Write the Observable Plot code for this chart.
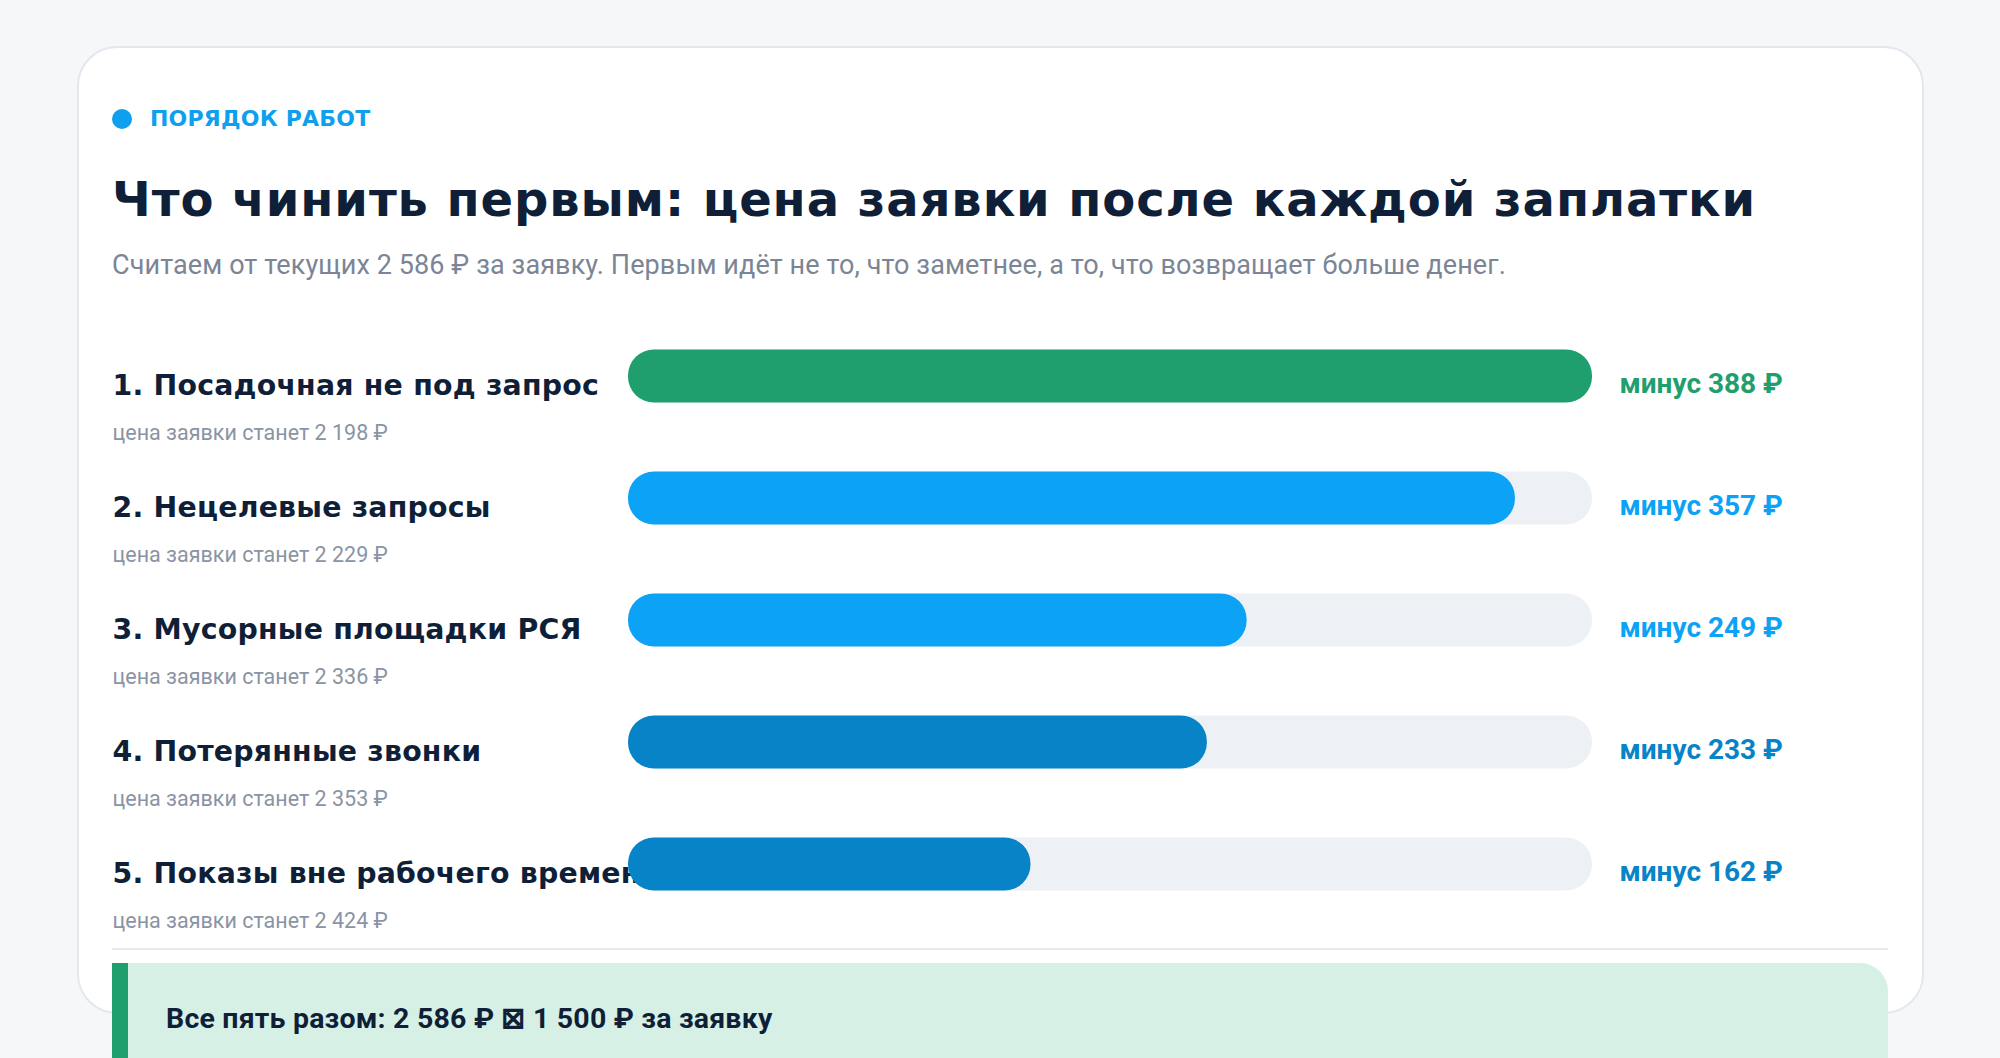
<!DOCTYPE html>
<html lang="ru">
<head>
<meta charset="utf-8">
<script src="https://cdn.jsdelivr.net/npm/d3@7"></script>
<script src="https://cdn.jsdelivr.net/npm/@observablehq/plot@0.6"></script>
<style>
  html, body { margin: 0; padding: 0; }
  body { width: 2000px; height: 1058px; overflow: hidden; background: #f6f7f9; position: relative; }
  .abs { position: absolute; white-space: nowrap; }
  #card { left: 77px; top: 46px; width: 1847px; height: 968px; box-sizing: border-box;
          border: 2px solid #e3e8ef; border-radius: 40px; background: #fff; }
  #dot { left: 112px; top: 109px; width: 20px; height: 20px; border-radius: 50%; background: #0ea0ef; }
  #eyebrow { left: 150px; top: 108px; font: 700 22px/22px "DejaVu Sans"; color: #0ea0ef; letter-spacing: 0.2px; }
  #title { left: 112px; top: 175px; font: 700 48px/48px "DejaVu Sans"; color: #0f1f38; letter-spacing: 0.9px; }
  #subtitle { left: 112px; top: 252px; font: 400 27px/27px Roboto; color: #7b8595; letter-spacing: 0.1px; }
  #chart { left: 112px; top: 315px; }
  #sep { left: 112px; top: 948px; width: 1776px; height: 2px; background: #e6eaf0; }
  #callout { left: 112px; top: 963px; width: 1776px; height: 140px; box-sizing: border-box;
             background: #d6f0e5; border-left: 16px solid #1f9e6e; border-top-right-radius: 28px; }
  #callout-text { left: 166px; top: 1005px; font: 700 28.5px/28.5px Roboto; color: #0f1f38; letter-spacing: 0.2px; }
  #chart .row-label text { letter-spacing: 0.2px; }
</style>
</head>
<body>
<div id="card" class="abs"></div>
<div id="dot" class="abs"></div>
<div id="eyebrow" class="abs"></div>
<div id="title" class="abs"></div>
<div id="subtitle" class="abs"></div>
<div id="chart" class="abs"></div>
<div id="sep" class="abs"></div>
<div id="callout" class="abs"></div>
<div id="callout-text" class="abs"></div>
<script>
// ---- data ----
const ranks = [1, 2, 3, 4, 5];
const fixes = [
  "Посадочная не под запрос",
  "Нецелевые запросы",
  "Мусорные площадки РСЯ",
  "Потерянные звонки",
  "Показы вне рабочего времени"
];
const savings = [388, 357, 249, 233, 162];
const newPrices = [2198, 2229, 2336, 2353, 2424];
const currentPrice = 2586;
const allFivePrice = 1500;

const eyebrowText = "ПОРЯДОК РАБОТ";
const titleText = "Что чинить первым: цена заявки после каждой заплатки";
const palette = ["#1f9e6e", "#0ca2f5", "#0ca2f5", "#0784c7", "#0784c7"];

const fmt = n => d3.format(",")(n).replace(/,/g, " ");

document.getElementById("eyebrow").textContent = eyebrowText;
document.getElementById("title").textContent = titleText;
document.getElementById("subtitle").textContent =
  `Считаем от текущих ${fmt(currentPrice)} ₽ за заявку. Первым идёт не то, что заметнее, а то, что возвращает больше денег.`;
document.getElementById("callout-text").textContent =
  `Все пять разом: ${fmt(currentPrice)} ₽ ⊠ ${fmt(allFivePrice)} ₽ за заявку`;

const rows = ranks.map((r, i) => ({
  rank: r,
  label: `${r}. ${fixes[i]}`,
  sub: `цена заявки станет ${fmt(newPrices[i])} ₽`,
  value: savings[i],
  valueLabel: `минус ${savings[i]} ₽`
}));
const maxV = d3.max(savings);

const chart = Plot.plot({
  width: 1776,
  height: 610,
  margin: 0,
  style: { background: "transparent", overflow: "visible" },
  x: { domain: [0, maxV], range: [516, 1480], axis: null },
  y: { type: "band", domain: ranks, padding: 0, axis: null },
  color: { type: "ordinal", domain: ranks, range: palette },
  marks: [
    Plot.barX(rows, { x1: 0, x2: () => maxV, y: "rank", fill: "#edf1f6", rx: 26, insetTop: 34.5, insetBottom: 34.5 }),
    Plot.text(rows, { y: "rank", text: "label", frameAnchor: "left", textAnchor: "start", dy: 9,
      fontFamily: "DejaVu Sans", fontWeight: 700, fontSize: 28.4, fill: "#0f1f38", className: "row-label" }),
    Plot.text(rows, { y: "rank", text: "sub", frameAnchor: "left", textAnchor: "start", dy: 57,
      fontFamily: "Roboto", fontWeight: 400, fontSize: 21.5, fill: "#8a94a4" }),
    Plot.barX(rows, { x1: 0, x2: "value", y: "rank", fill: "rank", rx: 26, insetTop: 34.5, insetBottom: 34.5 }),
    Plot.text(rows, { x: () => maxV, y: "rank", text: "valueLabel", textAnchor: "start", dx: 27, dy: 7.5,
      fill: "rank", fontFamily: "Roboto", fontWeight: 700, fontSize: 28 })
  ]
});
document.getElementById("chart").appendChild(chart);
</script>
</body>
</html>
